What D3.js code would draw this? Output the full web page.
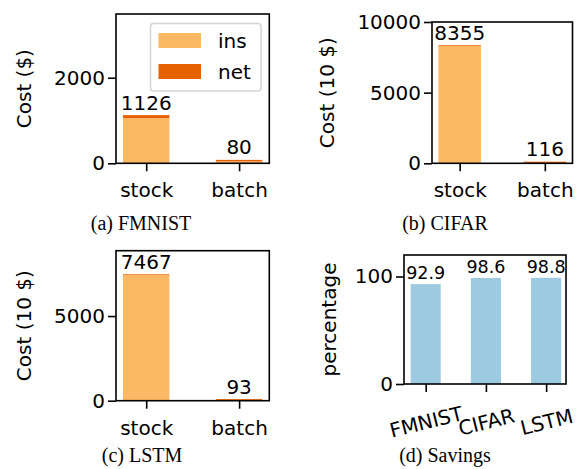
<!DOCTYPE html>
<html>
<head>
<meta charset="utf-8">
<script src="https://cdn.jsdelivr.net/npm/d3@7"></script>
<style>
  html, body { margin: 0; padding: 0; background: #fff; }
  svg { display: block; }
  .tick text { font-family: "DejaVu Sans", sans-serif; }
</style>
</head>
<body>
<svg id="chart" width="576" height="469"></svg>
<script>
// Cost breakdown per deployment mode (instance cost + network cost)
const costCategories = ["stock", "batch"];

const fmnistIns = [1056, 45];
const fmnistNet = [70, 35];
const fmnistTicks = [0, 2000];

const cifarIns = [8300, 30];
const cifarNet = [55, 86];
const cifarTicks = [0, 5000, 10000];

const lstmIns = [7420, 30];
const lstmNet = [47, 63];
const lstmTicks = [0, 5000];

// Savings of batch over stock, in percent
const savingsCategories = ["FMNIST", "CIFAR", "LSTM"];
const savingsValues = [92.9, 98.6, 98.8];
const savingsTicks = [0, 100];

const legendLabels = ["ins", "net"];

const COLOR_INS = "#fdb863";
const COLOR_NET = "#e66101";
const COLOR_SAVE = "#9ecae1";
const SANS = "'DejaVu Sans', sans-serif";
const SERIF = "'Liberation Serif', 'Times New Roman', serif";
const FS = 20;

const svg = d3.select("#chart");

function frame(g, box) {
  g.append("rect")
    .attr("x", box.x0).attr("y", box.y0)
    .attr("width", box.x1 - box.x0).attr("height", box.y1 - box.y0)
    .attr("fill", "none").attr("stroke", "#000").attr("stroke-width", 1.6);
}

function axes(g, box, x, y, yTicks, xCats, rotate) {
  const ya = d3.axisLeft(y).tickValues(yTicks).tickFormat(d3.format("d"))
    .tickSize(8).tickPadding(3).tickSizeOuter(0);
  const yg = g.append("g").attr("transform", `translate(${box.x0},0)`).call(ya);
  yg.select(".domain").remove();
  yg.selectAll(".tick line").attr("stroke-width", 1.6);
  yg.selectAll(".tick text").attr("font-size", FS).attr("fill", "#000");

  const xa = d3.axisBottom(x).tickValues(d3.range(xCats.length))
    .tickFormat(i => xCats[i]).tickSize(8).tickSizeOuter(0);
  const xg = g.append("g").attr("transform", `translate(0,${box.y1})`).call(xa);
  xg.select(".domain").remove();
  xg.selectAll(".tick line").attr("stroke-width", 1.6);
  const t = xg.selectAll(".tick text").attr("font-size", FS).attr("fill", "#000");
  if (rotate) {
    t.attr("y", 0).attr("dy", null)
      .attr("dominant-baseline", "central")
      .attr("transform", `translate(0,${rotate.dy}) rotate(${rotate.angle})`);
  } else {
    t.attr("y", 0).attr("dy", null).attr("transform", "translate(0,34)");
  }
}

function yLabel(g, text, x, box) {
  g.append("text")
    .attr("transform", `translate(${x},${(box.y0 + box.y1) / 2}) rotate(-90)`)
    .attr("text-anchor", "middle").attr("dominant-baseline", "central")
    .attr("font-family", SANS).attr("font-size", FS).text(text);
}

function caption(g, text, x, y) {
  g.append("text").attr("x", x).attr("y", y)
    .attr("text-anchor", "middle")
    .attr("font-family", SERIF).attr("font-size", 20).text(text);
}

function costPanel(opt) {
  const { box, ins, net, ymax, ticks, ylabel, ylabelX, cap, capX, capY } = opt;
  const g = svg.append("g");
  const x = d3.scaleLinear().domain([-0.325, 1.325]).range([box.x0, box.x1]);
  const y = d3.scaleLinear().domain([0, ymax]).range([box.y1, box.y0]);
  const bw = x(0.5) - x(0);
  const totals = ins.map((v, i) => v + net[i]);

  g.selectAll(".ins").data(ins).join("rect")
    .attr("x", (d, i) => x(i) - bw / 2).attr("width", bw)
    .attr("y", d => y(d)).attr("height", d => y(0) - y(d))
    .attr("fill", COLOR_INS);
  g.selectAll(".net").data(net).join("rect")
    .attr("x", (d, i) => x(i) - bw / 2).attr("width", bw)
    .attr("y", (d, i) => y(totals[i])).attr("height", (d, i) => y(ins[i]) - y(totals[i]))
    .attr("fill", COLOR_NET);
  g.selectAll(".val").data(totals).join("text")
    .attr("x", (d, i) => x(i)).attr("y", d => y(d) - 5.5)
    .attr("text-anchor", "middle")
    .attr("font-family", SANS).attr("font-size", FS).text(d => d);

  frame(g, box);
  axes(g, box, x, y, ticks, costCategories, null);
  yLabel(g, ylabel, ylabelX, box);
  caption(g, cap, capX, capY);
  return g;
}

// (a) FMNIST, with legend
const gA = costPanel({
  box: { x0: 116, x1: 269.3, y0: 14, y1: 163.3 },
  ins: fmnistIns, net: fmnistNet, ymax: 3490, ticks: fmnistTicks,
  ylabel: "Cost ($)", ylabelX: 24, cap: "(a) FMNIST", capX: 141, capY: 230
});
const leg = gA.append("g");
leg.append("rect").attr("x", 150.5).attr("y", 23.5).attr("width", 110.5).attr("height", 67.5)
  .attr("rx", 3).attr("fill", "#fff").attr("fill-opacity", 0.8)
  .attr("stroke", "#d4d4d4").attr("stroke-width", 1.5);
[COLOR_INS, COLOR_NET].forEach((c, i) => {
  leg.append("rect").attr("x", 158.5).attr("y", 33 + i * 31).attr("width", 42.5).attr("height", 15)
    .attr("fill", c);
  leg.append("text").attr("x", 218).attr("y", 40.5 + i * 31)
    .attr("dominant-baseline", "central")
    .attr("font-family", SANS).attr("font-size", FS).text(legendLabels[i]);
});

// (b) CIFAR
costPanel({
  box: { x0: 432, x1: 572.5, y0: 22, y1: 163.3 },
  ins: cifarIns, net: cifarNet, ymax: 10000, ticks: cifarTicks,
  ylabel: "Cost (10 $)", ylabelX: 327, cap: "(b) CIFAR", capX: 445, capY: 230
});

// (c) LSTM
costPanel({
  box: { x0: 116, x1: 269.3, y0: 250.7, y1: 400.7 },
  ins: lstmIns, net: lstmNet, ymax: 8860, ticks: lstmTicks,
  ylabel: "Cost (10 $)", ylabelX: 24, cap: "(c) LSTM", capX: 142, capY: 462
});

// (d) Savings
(function () {
  const box = { x0: 404, x1: 566, y0: 255, y1: 384 };
  const g = svg.append("g");
  const x = d3.scaleLinear().domain([-0.36, 2.33]).range([box.x0, box.x1]);
  const y = d3.scaleLinear().domain([0, 120]).range([box.y1, box.y0]);
  const bw = x(0.5) - x(0);
  g.selectAll(".sv").data(savingsValues).join("rect")
    .attr("x", (d, i) => x(i) - bw / 2).attr("width", bw)
    .attr("y", d => y(d)).attr("height", d => y(0) - y(d))
    .attr("fill", COLOR_SAVE);
  g.selectAll(".val").data(savingsValues).join("text")
    .attr("x", (d, i) => x(i)).attr("y", d => y(d) - 5)
    .attr("text-anchor", "middle")
    .attr("font-family", SANS).attr("font-size", 17.5).text(d => d.toFixed(1));
  frame(g, box);
  axes(g, box, x, y, savingsTicks, savingsCategories, { angle: -14, dy: 38 });
  yLabel(g, "percentage", 329, box);
  caption(g, "(d) Savings", 445, 462);
})();
</script>
</body>
</html>
